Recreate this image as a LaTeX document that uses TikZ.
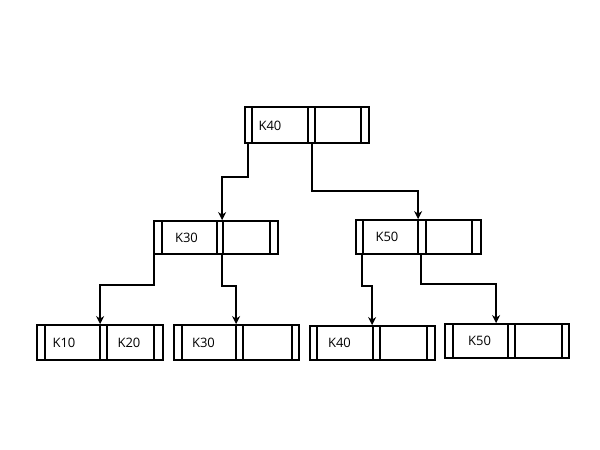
\documentclass[tikz,border=0pt]{standalone}
\usepackage{fontspec}
\setmainfont{Open Sans}
\usetikzlibrary{arrows.meta,fit}
\tikzset{
  recbox/.style={draw, line width=1.8pt, inner sep=0pt},
  sep/.style={line width=1.8pt},
  lbl/.style={font=\fontsize{13}{15}\selectfont, inner sep=0pt},
  arr/.style={line width=1.8pt, -{Stealth[length=8pt,width=8pt,inset=2.5pt]}}
}
\newcommand\bnode[9]{%
  \coordinate (#1-a) at (#2,#3);
  \coordinate (#1-b) at (#4,#5);
  \node[recbox, fit=(#1-a)(#1-b)] (#1) {};
  \draw[sep] (#6,#3) -- (#6,#5);
  \draw[sep] (#7,#3) -- (#7,#5);
  \draw[sep] (#8,#3) -- (#8,#5);
  \draw[sep] (#9,#3) -- (#9,#5);
}
\begin{document}
\begin{tikzpicture}[x=1pt,y=-1pt]
\useasboundingbox (0,0) rectangle (600,450);
\fill[white] (0,0) rectangle (600,450);
% nodes
\bnode{root}{245}{107}{369}{143}{252}{308}{315}{361}
\bnode{mA}{154}{221}{278}{254}{162}{217}{223}{270}
\bnode{mB}{356}{220}{481}{254}{363}{418}{426}{472}
\bnode{lA}{37}{325}{163}{360}{45}{100}{107}{154}
\bnode{lB}{174}{325}{299}{360}{182}{236}{243}{292}
\bnode{lC}{310}{326}{435}{360}{317}{373}{380}{427}
\bnode{lD}{445}{324}{569}{358}{453}{508}{515}{562}
% labels
\node[lbl] (t-root) at (270,126) {K40};
\node[lbl] (t-mA) at (186.5,238) {K30};
\node[lbl] (t-mB) at (387,237) {K50};
\node[lbl] (t-lA1) at (64,343) {K10};
\node[lbl] (t-lA2) at (129,343) {K20};
\node[lbl] (t-lB) at (203.5,343) {K30};
\node[lbl] (t-lC) at (339.5,343) {K40};
\node[lbl] (t-lD) at (479.5,341) {K50};
% connectors
\draw[arr] ([xshift=4pt]root.south west) -- ++(0,33) -| ([xshift=69pt]mA.north west);
\draw[arr] ([xshift=68pt]root.south west) -- ++(0,47) -| ([xshift=63pt]mB.north west);
\draw[arr] ([xshift=1pt]mA.south west) -- ++(0,30) -| ([xshift=64pt]lA.north west);
\draw[arr] ([xshift=69pt]mA.south west) -- ++(0,31) -| ([xshift=63pt]lB.north west);
\draw[arr] ([xshift=7pt]mB.south west) -- ++(0,31) -| ([xshift=63pt]lC.north west);
\draw[arr] ([xshift=66pt]mB.south west) -- ++(0,29) -| ([xshift=52pt]lD.north west);
\end{tikzpicture}
\end{document}
